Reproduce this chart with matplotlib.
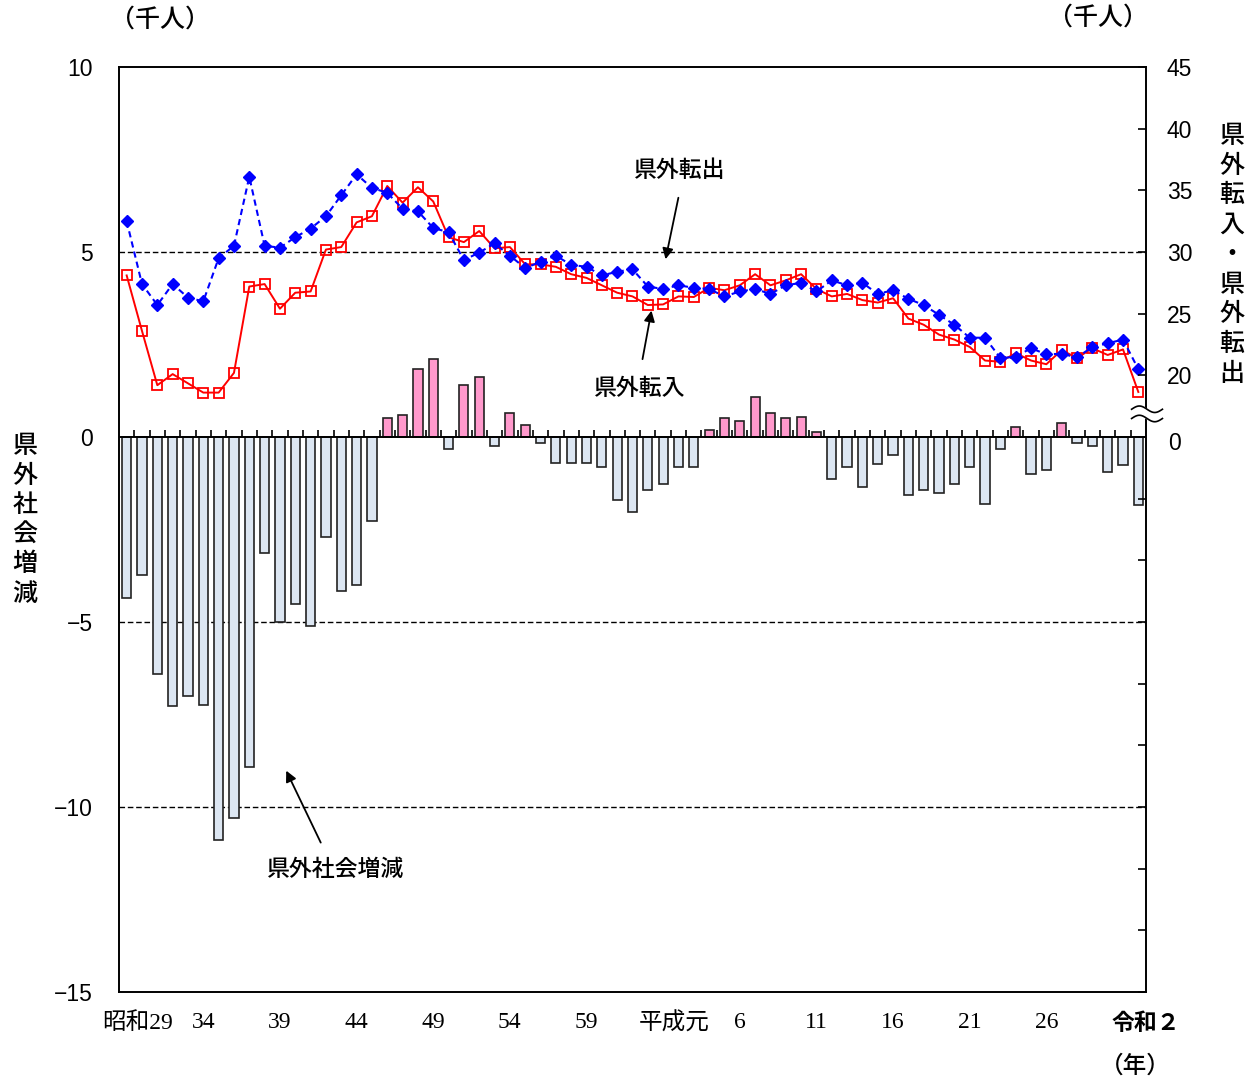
import numpy as np
import matplotlib
matplotlib.use("Agg")
import matplotlib.pyplot as plt

plt.rcParams["font.family"] = ["Noto Sans CJK JP", "DejaVu Sans"]

# 昭和29(1954) .. 令和2(2020), 千人
years = list(range(1954, 2021))

social = [-4.34, -3.73, -6.41, -7.27, -6.99, -7.23, -10.89, -10.29, -8.92, -3.13,
          -5.01, -4.52, -5.11, -2.69, -4.16, -4.01, -2.27, 0.52, 0.59, 1.83,
          2.11, -0.33, 1.40, 1.63, -0.24, 0.64, 0.32, -0.15, -0.71, -0.71,
          -0.71, -0.80, -1.71, -2.04, -1.44, -1.27, -0.80, -0.82, 0.18, 0.51,
          0.42, 1.07, 0.66, 0.51, 0.55, 0.14, -1.14, -0.81, -1.34, -0.72,
          -0.48, -1.56, -1.42, -1.51, -1.27, -0.82, -1.80, -0.33, 0.27, -0.99,
          -0.90, 0.38, -0.15, -0.24, -0.95, -0.76, -1.85]

move_in = [28.1, 23.6, 19.2, 20.1, 19.35, 18.6, 18.6, 20.2, 27.2, 27.4,
           25.4, 26.7, 26.8, 30.2, 30.4, 32.4, 32.9, 35.35, 34.0, 35.25,
           34.1, 31.2, 30.8, 31.7, 30.3, 30.4, 29.0, 29.0, 28.8, 28.2,
           27.9, 27.3, 26.7, 26.4, 25.7, 25.75, 26.4, 26.35, 27.1, 26.9,
           27.3, 28.2, 27.3, 27.7, 28.2, 27.0, 26.4, 26.6, 26.1, 25.9,
           26.25, 24.6, 24.1, 23.3, 22.9, 22.3, 21.2, 21.1, 21.8, 21.2,
           20.9, 22.05, 21.4, 22.2, 21.65, 22.1, 18.65]

move_out = [32.5, 27.4, 25.7, 27.4, 26.3, 26.0, 29.5, 30.5, 36.1, 30.5,
            30.35, 31.2, 31.9, 32.9, 34.6, 36.3, 35.2, 34.8, 33.5, 33.3,
            31.95, 31.6, 29.35, 29.95, 30.7, 29.7, 28.7, 29.2, 29.7, 28.95,
            28.8, 28.1, 28.4, 28.6, 27.2, 27.0, 27.3, 27.1, 27.0, 26.4,
            26.8, 27.0, 26.6, 27.3, 27.5, 26.8, 27.7, 27.3, 27.5, 26.6,
            26.9, 26.2, 25.7, 24.9, 24.1, 23.05, 23.05, 21.4, 21.5, 22.2,
            21.7, 21.75, 21.45, 22.3, 22.6, 22.9, 20.5]

tick_years = [1954, 1959, 1964, 1969, 1974, 1979, 1984, 1989, 1994, 1999,
              2004, 2009, 2014, 2020]
tick_labels = ["昭和29", "34", "39", "44", "49", "54", "59", "平成元", "6",
               "11", "16", "21", "26", "令和２"]

left_ticks = [-15, -10, -5, 0, 5, 10]
right_labelled = [20, 25, 30, 35, 40, 45]


def to_left(r):
    # right axis (転入・転出) drawn on the left scale: 30 -> 5, 45 -> 10
    return (np.asarray(r, dtype=float) - 15) / 3


x = np.arange(len(years))
social = np.array(social)

fig = plt.figure(figsize=(12.53, 10.79), dpi=100)
ax = fig.add_axes([119 / 1253, 1 - 992 / 1079, (1146 - 119) / 1253, (992 - 67) / 1079])
ax.set_xlim(-0.5, len(years) - 0.5)
ax.set_ylim(-15, 10)

# dashed grid
for g in [5, -5, -10]:
    ax.axhline(g, color="black", lw=1.0, ls=(0, (4, 2)), zorder=1)

colors = np.where(social >= 0, "#ff99cc", "#dce6f2")
ax.bar(x, social, width=0.6, color=colors, edgecolor="#222222", linewidth=1.2, zorder=2)

ax.axhline(0, color="black", lw=1.4, zorder=3)
ax.vlines(x[:-1] + 0.5, 0, 0.19, color="black", lw=1.2, zorder=3)

ax.plot(x, to_left(move_in), color="red", lw=1.4, marker="s", ms=7.5,
        mfc="none", mec="red", mew=1.3, zorder=4)
ax.plot(x, to_left(move_out), color="blue", lw=1.5, ls=(0, (3, 2)), marker="D",
        ms=6, mfc="blue", mec="blue", zorder=5)

num_font = dict(family="Liberation Sans", fontsize=16.5)

# left axis
ax.set_yticks(left_ticks)
ax.set_yticklabels([str(v).replace("-", "−") for v in left_ticks], **num_font)
ax.tick_params(axis="y", length=0, pad=19)
ax.set_xticks([])
for s in ax.spines.values():
    s.set_linewidth(1.4)

# right axis
ax2 = ax.twinx()
ax2.set_ylim(ax.get_ylim())
r_ticks = np.arange(-30, 46, 5)
ax2.set_yticks(to_left(r_ticks))
ax2.set_yticklabels([str(r) if r in right_labelled else "" for r in r_ticks], **num_font)
ax2.tick_params(axis="y", direction="in", length=6, width=1.2, pad=15)
ax2.annotate("0", xy=(1, -0.17), xycoords=("axes fraction", "data"),
             xytext=(16, 0), textcoords="offset points", ha="left", va="center", **num_font)
for s in ax2.spines.values():
    s.set_visible(False)

# axis break on the right spine
bx = np.linspace(0.986, 1.016, 60)
wave = 0.0035 * np.sin((bx - 0.986) / 0.030 * 2 * np.pi)
yb = 0.630
ax.fill_between(bx, yb + wave, yb - 0.010 + wave, color="white",
                transform=ax.transAxes, clip_on=False, zorder=6)
ax.plot(bx, yb + wave, color="black", lw=1.2, transform=ax.transAxes, clip_on=False, zorder=7)
ax.plot(bx, yb - 0.010 + wave, color="black", lw=1.2, transform=ax.transAxes, clip_on=False, zorder=7)

# year labels
shift = {"昭和29": 0.7, "平成元": 0.7, "令和２": 0.5}
for yr, lab in zip(tick_years, tick_labels):
    xi = years.index(yr) + shift.get(lab, 0)
    if lab == "令和２":
        ax.text(xi, -15.55, lab, ha="center", va="top", fontsize=16.5,
                fontweight="bold", family=["Noto Sans CJK JP"])
    else:
        ax.text(xi, -15.55, lab, ha="center", va="top", fontsize=17,
                family=["Liberation Serif", "Noto Sans CJK JP"])
fig.text(1135 / 1253, 1 - 1066 / 1079, "（年）", ha="center", va="center",
         fontsize=17, fontweight="medium")

# units
fig.text(160 / 1253, 1 - 20 / 1079, "（千人）", ha="center", va="center",
         fontsize=18, fontweight="medium")
fig.text(1098 / 1253, 1 - 18 / 1079, "（千人）", ha="center", va="center",
         fontsize=18, fontweight="medium")

# vertical axis titles
for i, ch in enumerate("県外社会増減"):
    fig.text(25 / 1253, 1 - (446 + 29.5 * i) / 1079, ch, ha="center", va="center",
             fontsize=18, fontweight="medium")
for i, ch in enumerate("県外転入・県外転出"):
    fig.text(1232 / 1253, 1 - (136 + 29.7 * i) / 1079, ch, ha="center", va="center",
             fontsize=18, fontweight="medium")

# callouts
arrow = dict(arrowstyle="-|>", color="black", lw=1.3, mutation_scale=16)
call_font = dict(ha="center", va="center", fontsize=16.5, fontweight="medium")
ax.text(36.1, 7.19, "県外転出", **call_font)
ax.annotate("", xy=(35.12, 4.73), xytext=(36.03, 6.54), arrowprops=arrow)
ax.text(33.49, 1.32, "県外転入", **call_font)
ax.annotate("", xy=(34.27, 3.49), xytext=(33.62, 2.03), arrowprops=arrow)
ax.text(13.66, -11.70, "県外社会増減", **call_font)
ax.annotate("", xy=(10.33, -8.95), xytext=(12.74, -11.03), arrowprops=arrow)

fig.savefig("out.png", dpi=100, facecolor="white")
